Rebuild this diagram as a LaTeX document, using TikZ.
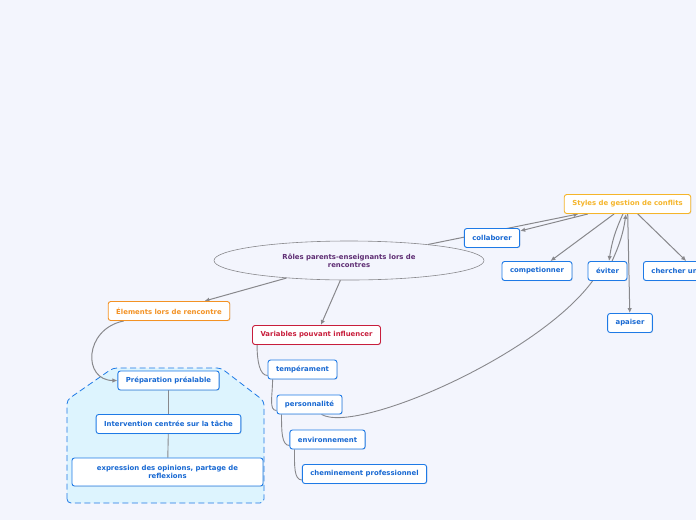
\documentclass[tikz,border=0pt]{standalone}
\usepackage{fontspec}
\setmainfont{DejaVu Sans}
\usetikzlibrary{arrows.meta,shapes.geometric,backgrounds,shadows}
\definecolor{bgpaper}{HTML}{F3F5FD}
\definecolor{topicblue}{HTML}{1E7AE6}
\definecolor{textblue}{HTML}{1768D2}
\definecolor{amber}{HTML}{F5B52A}
\definecolor{tangerine}{HTML}{F39224}
\definecolor{crimson}{HTML}{C81E3C}
\definecolor{plum}{HTML}{5E2D73}
\definecolor{linkgray}{HTML}{88888C}
\definecolor{zonefill}{HTML}{DDF4FE}

\begin{document}
\begin{tikzpicture}[
    font=\fontsize{6.9}{8.4}\selectfont\bfseries,
      >={Latex[length=5pt,width=4.5pt]},
      x=1pt, y=-1pt,
      topic/.style={rectangle, rounded corners=2.5pt, draw=topicblue, line width=0.9pt, fill=white, text=textblue, minimum height=19pt, inner xsep=8pt, drop shadow={shadow xshift=0.7pt, shadow yshift=-0.7pt, opacity=0.2}},
      main topic/.style={topic, draw=#1, text=#1},
      central/.style={ellipse, draw=linkgray, line width=0.6pt, text=plum, align=center, minimum width=270pt, minimum height=39pt},
      zone/.style={draw=topicblue, fill=zonefill, line width=0.8pt, dash pattern=on 6pt off 3.5pt, rounded corners=4pt},
      arrow/.style={->, draw=linkgray, line width=1pt},
      link/.style={draw=linkgray, line width=0.9pt}
    ]
      \useasboundingbox (0,0) rectangle (696,520);

      \node[main topic=amber] (styles) at (627.5,204) {Styles de gestion de conflits};
      \node[topic] (collab) at (492,238) {collaborer};
      \node[topic] (compet) at (537,271) {competionner};
      \node[topic] (eviter) at (607.5,271) {éviter};
      \node[topic, anchor=west, text width=90pt] (chercher) at (643,271) {chercher un};
      \node[topic] (apaiser) at (630,323) {apaiser};
      \node[central] (roles) at (349,260.5) {Rôles parents-enseignants lors de\\rencontres};
      \node[main topic=tangerine] (elements) at (169,311) {Élements lors de rencontre};
      \node[main topic=crimson] (variables) at (316.5,335) {Variables pouvant influencer};
      \node[topic] (prep) at (168.5,380.5) {Préparation préalable};
      \node[topic] (interv) at (168.5,424) {Intervention centrée sur la tâche};
      \node[topic, text width=175pt, align=center, minimum height=28pt] (expr) at (167.5,472) {expression des opinions, partage de\\reflexions};
      \node[topic] (temp) at (302.5,369.5) {tempérament};
      \node[topic] (perso) at (309.5,404.5) {personnalité};
      \node[topic] (env) at (327.5,439.5) {environnement};
      \node[topic] (chem) at (364.5,474) {cheminement professionnel};

      \begin{pgfonlayer}{background}
      \fill[bgpaper] (0,0) rectangle (696,520);
      \draw[zone] (67,503) -- (67,400) -- (113,368) -- (221,368) -- (264,401) -- (264,503) -- cycle;

      \draw[arrow] (roles) -- (styles);
      \draw[arrow] (styles) -- (collab);
      \draw[arrow] (styles) -- (compet);
      \draw[arrow] (styles) to[bend right=8] (eviter);
      \draw[arrow] (eviter) to[bend right=8] (styles);
      \draw[arrow] (styles) -- (apaiser);
      \draw[arrow] (styles) -- (chercher);
      \draw[link] ([xshift=5pt]eviter.south west) .. controls +(-55,75) and +(35,20) .. ([xshift=12pt]perso.south);
      \draw[arrow] (roles) -- (elements);
      \draw[arrow] (roles) -- (variables);
      \draw[arrow] ([xshift=16pt]elements.south west) .. controls +(-40,8) and +(-35,0) .. (prep.west);
      \draw[link] (prep) -- (interv);
      \draw[link] (interv) -- (expr);
      \foreach \parent/\child in {variables/temp, temp/perso, perso/env, env/chem}
        \draw[link] ([xshift=5pt]\parent.south west) .. controls +(0,16) and +(-8,0) .. ([yshift=-6pt]\child.west);
      \end{pgfonlayer}
    \end{tikzpicture}
\end{document}
